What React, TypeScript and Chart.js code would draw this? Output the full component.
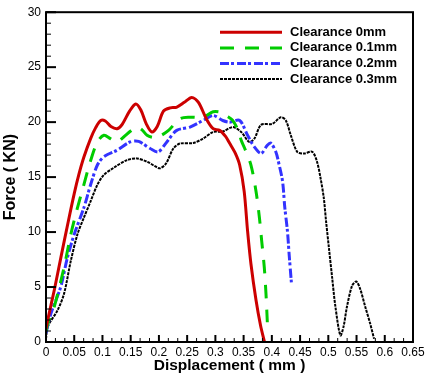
import React, { useEffect, useRef } from "react";
import { Chart, registerables } from "chart.js";

Chart.register(...registerables);

// ---- data (displacement in mm, force in kN) ----
const seriesLabels = ["Clearance 0mm", "Clearance 0.1mm", "Clearance 0.2mm", "Clearance 0.3mm"];

const clearance0X = [0, 0.003, 0.015, 0.0264, 0.04, 0.05, 0.058, 0.067, 0.079, 0.088, 0.097, 0.105, 0.115, 0.126, 0.135, 0.148, 0.159, 0.168, 0.178, 0.1875, 0.197, 0.208, 0.22, 0.231, 0.245, 0.258, 0.27, 0.284, 0.296, 0.3075, 0.318, 0.325, 0.335, 0.343, 0.351, 0.357, 0.363, 0.372, 0.38, 0.387];
const clearance0Y = [1.2, 2.0, 4.8, 7.7, 11.1, 13.5, 15.2, 16.8, 18.5, 19.5, 20.15, 20.1, 19.6, 19.4, 19.8, 21.0, 21.65, 21.1, 19.8, 19.1, 19.6, 21.0, 21.3, 21.35, 21.8, 22.25, 21.8, 20.3, 19.4, 19.25, 18.7, 18.1, 17.2, 16.1, 13.7, 10.1, 7.1, 3.8, 1.5, 0];

const clearance01X = [0, 0.005, 0.0146, 0.032, 0.044, 0.0557, 0.067, 0.079, 0.091, 0.1025, 0.114, 0.126, 0.1376, 0.15, 0.161, 0.17, 0.179, 0.19, 0.199, 0.217, 0.237, 0.255, 0.278, 0.296, 0.31, 0.319, 0.33, 0.34, 0.3457, 0.352, 0.363, 0.372, 0.378, 0.382, 0.3866, 0.3896, 0.392];
const clearance01Y = [1.0, 2.0, 3.2, 6.8, 9.8, 12.2, 14.3, 16.5, 18.2, 18.8, 18.5, 18.2, 18.65, 19.2, 19.55, 19.3, 18.8, 18.6, 18.65, 19.25, 20.3, 20.45, 20.45, 20.95, 20.9, 20.6, 20.2, 19.3, 18.35, 17.6, 16.1, 13.7, 11.3, 9.2, 6.8, 4.4, 1.8];

const clearance02X = [0, 0.0088, 0.026, 0.038, 0.05, 0.067, 0.079, 0.091, 0.1025, 0.126, 0.149, 0.164, 0.1845, 0.199, 0.214, 0.2315, 0.255, 0.278, 0.296, 0.313, 0.325, 0.343, 0.357, 0.369, 0.381, 0.392, 0.398, 0.407, 0.413, 0.419, 0.423, 0.4276, 0.4306, 0.4346];
const clearance02Y = [0.8, 2.6, 5.0, 7.7, 9.8, 12.2, 14.3, 16.1, 16.85, 17.45, 18.2, 18.25, 17.6, 17.3, 18.2, 19.25, 19.55, 20.15, 20.6, 20.15, 20.0, 20.15, 18.8, 17.75, 17.15, 17.9, 18.1, 17.3, 16.1, 14.6, 12.2, 10.1, 8.0, 5.4];

const clearance03X = [0, 0.003, 0.0206, 0.032, 0.044, 0.0557, 0.067, 0.079, 0.091, 0.1025, 0.12, 0.1436, 0.161, 0.179, 0.193, 0.202, 0.2127, 0.2255, 0.237, 0.2606, 0.278, 0.296, 0.313, 0.331, 0.3457, 0.36, 0.369, 0.381, 0.401, 0.416, 0.4248, 0.4336, 0.445, 0.457, 0.4716, 0.48, 0.4863, 0.492, 0.496, 0.501, 0.5067, 0.5126, 0.5214, 0.527, 0.533, 0.542, 0.5495, 0.5566, 0.5654, 0.574, 0.581];
const clearance03Y = [0.3, 1.4, 2.9, 4.4, 7.4, 9.8, 11.3, 12.8, 14.3, 15.2, 15.85, 16.55, 16.7, 16.4, 16.0, 15.8, 16.25, 17.6, 18.05, 18.1, 18.5, 19.1, 19.15, 19.55, 19.1, 18.2, 18.5, 19.75, 19.85, 20.45, 20.15, 18.8, 17.3, 17.15, 17.3, 16.4, 14.9, 13.1, 11.0, 8.6, 5.9, 3.2, 0.6, 1.4, 3.2, 5.1, 5.5, 4.8, 3.2, 1.7, 0.3];

const xRange = [0, 0.65];
const xTickStep = 0.05;
const yRange = [0, 30];
const yTickStep = 5;

const xTitle = "Displacement ( mm )";
const yTitle = "Force ( KN)";

const FONT = "Arial, 'Liberation Sans', sans-serif";

const toPoints = (xs: number[], ys: number[]) => xs.map((x, i) => ({ x, y: ys[i] }));

export default function App() {
  const ref = useRef<HTMLCanvasElement>(null);

  useEffect(() => {
    document.body.style.margin = "0";
    const canvas = ref.current!;
    const styles = [
      { color: "#cc0000", width: 3, dash: [] as number[] },
      { color: "#00cc00", width: 3, dash: [14, 11] },
      { color: "#3333ff", width: 3, dash: [9, 2, 3, 3] },
      { color: "#000000", width: 2, dash: [3, 1] },
    ];
    const series = [
      toPoints(clearance0X, clearance0Y),
      toPoints(clearance01X, clearance01Y),
      toPoints(clearance02X, clearance02Y),
      toPoints(clearance03X, clearance03Y),
    ];
    const datasets = series.map((pts, i) => ({
      label: seriesLabels[i],
      data: pts,
      borderColor: styles[i].color,
      backgroundColor: styles[i].color,
      borderWidth: styles[i].width,
      borderDash: styles[i].dash,
      pointRadius: 0,
      fill: false,
      tension: 0.3,
    }));

    const framePlugin = {
      id: "frameTicksLegend",
      afterDraw(chart: any) {
        const { ctx, chartArea } = chart;
        const { left, top, right, bottom } = chartArea;
        const xs = chart.scales.x;
        const ys = chart.scales.y;
        ctx.save();
        ctx.strokeStyle = "#000";
        // x ticks (inward), 2 minor between majors
        const xMinor = xTickStep / 3;
        const nx = Math.round((xRange[1] - xRange[0]) / xMinor);
        for (let k = 0; k <= nx; k++) {
          const v = xRange[0] + k * xMinor;
          const px = xs.getPixelForValue(v);
          const major = k % 3 === 0;
          ctx.lineWidth = major ? 2 : 1;
          ctx.beginPath();
          ctx.moveTo(px, bottom);
          ctx.lineTo(px, bottom - (major ? 7 : 4));
          ctx.stroke();
        }
        // y ticks (inward), minor every 1
        const yMinor = yTickStep / 5;
        const ny = Math.round((yRange[1] - yRange[0]) / yMinor);
        for (let k = 0; k <= ny; k++) {
          const v = yRange[0] + k * yMinor;
          const py = ys.getPixelForValue(v);
          const major = k % 5 === 0;
          ctx.lineWidth = major ? 2 : 1;
          ctx.beginPath();
          ctx.moveTo(left, py);
          ctx.lineTo(left + (major ? 10 : 5), py);
          ctx.stroke();
        }
        // frame
        ctx.lineWidth = 2;
        ctx.strokeRect(left, top, right - left, bottom - top);

        // legend
        const lx0 = 220, lx1 = 282, tx = 290, ly0 = 32.3, dy = 15.6;
        chart.data.datasets.forEach((ds: any, i: number) => {
          const y = ly0 + i * dy;
          ctx.save();
          ctx.strokeStyle = ds.borderColor;
          ctx.lineWidth = ds.borderWidth;
          ctx.setLineDash(ds.borderDash || []);
          ctx.beginPath();
          ctx.moveTo(lx0, y);
          ctx.lineTo(lx1, y);
          ctx.stroke();
          ctx.restore();
          ctx.fillStyle = "#000";
          ctx.font = `bold 13px ${FONT}`;
          ctx.textBaseline = "middle";
          ctx.textAlign = "left";
          ctx.fillText(ds.label, tx, y);
        });
        ctx.restore();
      },
    };

    const chart = new Chart(canvas, {
      type: "line",
      data: { datasets: datasets as any },
      options: {
        animation: false,
        responsive: false,
        devicePixelRatio: 1,
        layout: { padding: { top: 9, right: 17, left: 0, bottom: 0 } },
        plugins: { legend: { display: false }, tooltip: { enabled: false } },
        scales: {
          x: {
            type: "linear",
            min: xRange[0],
            max: xRange[1],
            grid: { display: false, drawTicks: false },
            border: { display: false },
            ticks: {
              stepSize: xTickStep,
              autoSkip: false,
              maxRotation: 0,
              minRotation: 0,
              padding: 3,
              color: "#000",
              font: { family: FONT, size: 12 },
              callback: (v: any) => Number(v).toFixed(2).replace(/\.?0+$/, "") || "0",
            },
            title: {
              display: true,
              text: xTitle,
              color: "#000",
              font: { family: FONT, size: 15.5, weight: "bold" },
              padding: { top: 0, bottom: 3 },
            },
            afterFit: (s: any) => { s.height = 36; },
          },
          y: {
            type: "linear",
            min: yRange[0],
            max: yRange[1],
            grid: { display: false, drawTicks: false },
            border: { display: false },
            ticks: {
              stepSize: yTickStep,
              padding: 5,
              color: "#000",
              font: { family: FONT, size: 12 },
            },
            title: {
              display: true,
              text: yTitle,
              color: "#000",
              font: { family: FONT, size: 16, weight: "bold" },
              padding: { top: 1, bottom: 0 },
            },
            afterFit: (s: any) => { s.width = 46; },
          },
        },
      },
      plugins: [framePlugin],
    });
    return () => chart.destroy();
  }, []);

  return (
    <div style={{ width: 430, height: 378 }}>
      <canvas ref={ref} width={430} height={378} style={{ display: "block" }} />
    </div>
  );
}
